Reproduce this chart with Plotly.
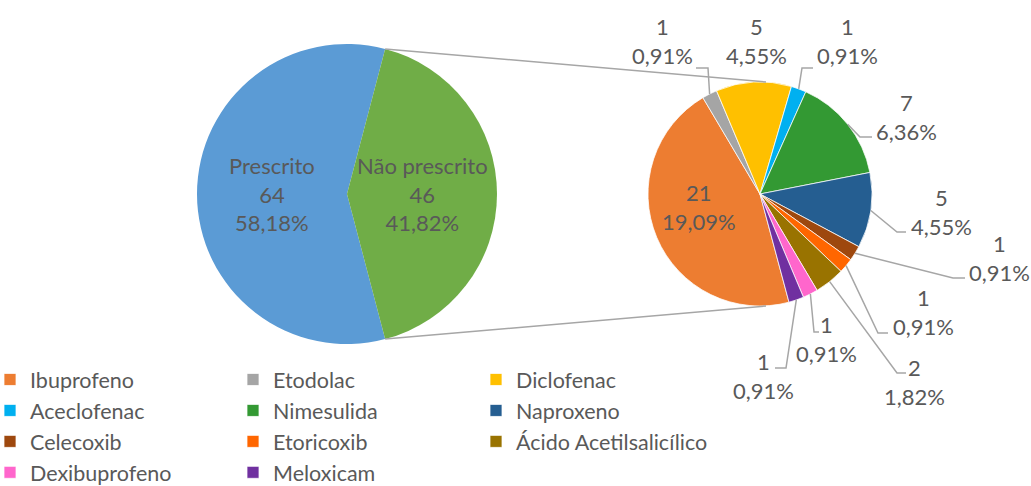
import math
import plotly.graph_objects as go

# ---------------- data ----------------
main_labels = ["Prescrito", "Não prescrito"]
main_values = [64, 46]
main_colors = ["#5B9BD5", "#70AD47"]

sub_labels = ["Ibuprofeno", "Etodolac", "Diclofenac", "Aceclofenac", "Nimesulida",
              "Naproxeno", "Celecoxib", "Etoricoxib", "Ácido Acetilsalicílico",
              "Dexibuprofeno", "Meloxicam"]
sub_values = [21, 1, 5, 1, 7, 5, 1, 1, 2, 1, 1]
sub_colors = ["#ED7D31", "#A5A5A5", "#FFC000", "#00B0F0", "#339933", "#255E91",
              "#9E480E", "#FF6600", "#997300", "#FF66CC", "#7030A0"]

# ---------------- layout geometry (pixels) ----------------
W, H = 1031, 486
ML, MR, MT, MB = 0, 100, 0, 0
PW, PH = W - ML - MR, H - MT - MB


def fx(x):
    return (x - ML) / PW


def fy(y):
    return 1 - (y - MT) / PH


TEXT = "#595959"
LINE = "#A6A6A6"
FONT = "Lato"

total = sum(main_values)

# main pie
cL, rL = (347, 194), 150
rotL = 90 + 360 * main_values[1] / total / 2
# sub pie
cR, rR = (760, 194), 112
rotR = 165


def pct(v):
    return f"{v / total * 100:.2f}".replace(".", ",") + "%"


fig = go.Figure()
fig.add_trace(go.Pie(
    labels=main_labels, values=main_values, sort=False, direction="clockwise",
    rotation=rotL, marker=dict(colors=main_colors, line=dict(width=0)),
    textinfo="none", showlegend=False, hoverinfo="label+value",
    domain=dict(x=[fx(cL[0] - rL), fx(cL[0] + rL)], y=[fy(cL[1] + rL), fy(cL[1] - rL)]),
))
fig.add_trace(go.Pie(
    labels=sub_labels, values=sub_values, sort=False, direction="clockwise",
    rotation=rotR, marker=dict(colors=sub_colors, line=dict(color="white", width=0.75)),
    textinfo="none", showlegend=True, hoverinfo="label+value",
    domain=dict(x=[fx(cR[0] - rR), fx(cR[0] + rR)], y=[fy(cR[1] + rR), fy(cR[1] - rR)]),
))

annotations = []
shapes = []

# main pie labels (at half radius along slice mid-angle)
ang = rotL
for lab, v in zip(main_labels, main_values):
    span = 360 * v / total
    mid = math.radians(ang + span / 2)
    x = cL[0] + 0.5 * rL * math.sin(mid)
    y = cL[1] - 0.5 * rL * math.cos(mid)
    annotations.append(dict(x=fx(x), y=fy(y), xref="paper", yref="paper",
                            text=f"{lab}<br>{v}<br>{pct(v)}", showarrow=False,
                            xanchor="center", yanchor="middle",
                            font=dict(family=FONT, size=22, color=TEXT)))
    ang += span

# connector lines between pies
a_top = math.radians(rotL + 360 * main_values[0] / total)
a_bot = math.radians(rotL)
for a, ry in ((a_top, cR[1] - rR), (a_bot, cR[1] + rR)):
    x0 = cL[0] + rL * math.sin(a)
    y0 = cL[1] - rL * math.cos(a)
    shapes.append(dict(type="line", xref="paper", yref="paper",
                       x0=fx(x0), y0=fy(y0), x1=fx(cR[0] + 6), y1=fy(ry),
                       line=dict(color=LINE, width=1.5)))

# sub pie label placement (pixel centers) and leader elbows: (label_x, label_y, elbow, stub_end)
label_pos = [
    (699, 207, None, None),
    (662, 41, (708, 68), (696, 68)),
    (756, 41, None, None),
    (847, 41, (802, 68), (813, 68)),
    (906, 117, (860, 137), (872, 137)),
    (942, 212, (897, 232), (906, 232)),
    (999, 258, (953, 278), (965, 278)),
    (923, 312, (878, 333), (888, 333)),
    (914, 382, (897, 373), (906, 373)),
    (826, 339, (814, 332), (819, 332)),
    (763, 376, (786, 368), (775, 368)),
]

sub_total = sum(sub_values)
ang = rotR
for v, (lx, ly, elbow, end) in zip(sub_values, label_pos):
    span = 360 * v / sub_total
    mid = math.radians(ang + span / 2)
    ang += span
    annotations.append(dict(x=fx(lx), y=fy(ly), xref="paper", yref="paper",
                            text=f"{v}<br>{pct(v)}", showarrow=False,
                            xanchor="center", yanchor="middle",
                            font=dict(family=FONT, size=22, color=TEXT)))
    if elbow is not None:
        sx = cR[0] + rR * math.sin(mid)
        sy = cR[1] - rR * math.cos(mid)
        path = (f"M {fx(sx)} {fy(sy)} L {fx(elbow[0])} {fy(elbow[1])} "
                f"L {fx(end[0])} {fy(end[1])}")
        shapes.append(dict(type="path", xref="paper", yref="paper", path=path,
                           line=dict(color=LINE, width=1.5)))

fig.update_layout(
    width=W, height=H,
    margin=dict(l=ML, r=MR, t=MT, b=MB, autoexpand=False),
    paper_bgcolor="white", plot_bgcolor="white",
    annotations=annotations, shapes=shapes,
    legend=dict(orientation="h", x=0, xanchor="left", y=fy(359), yanchor="top",
                entrywidthmode="fraction", entrywidth=243 / PW, indentation=-10,
                font=dict(family=FONT, size=21.5, color=TEXT),
                bgcolor="rgba(0,0,0,0)", traceorder="normal"),
)

fig.write_html("out.html", config={"displayModeBar": False},
               post_script="document.body.style.margin='0px';")
